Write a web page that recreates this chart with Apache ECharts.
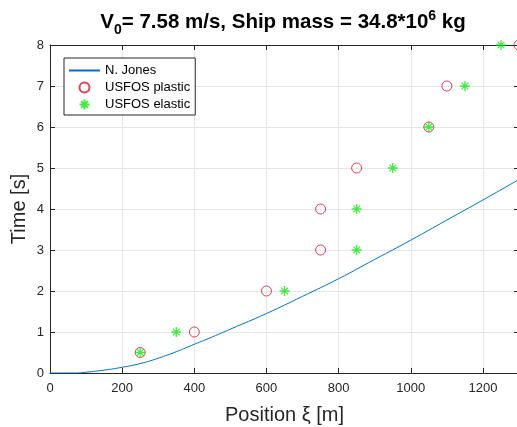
<!DOCTYPE html>
<html><head><meta charset="utf-8">
<script src="https://cdn.jsdelivr.net/npm/echarts@6/dist/echarts.min.js"></script>
<style>html,body{margin:0;padding:0;background:#fff}#c{width:517px;height:427px}</style>
</head><body><div id="c"></div>
<script>
// N. Jones analytical curve
const jonesX = [0, 70, 100, 150, 200, 250, 300, 350, 400, 450, 500, 600, 700, 800, 900, 1000, 1100, 1200, 1300];
const jonesT = [0, 0, 0.02, 0.07, 0.14, 0.23, 0.36, 0.52, 0.7, 0.88, 1.07, 1.45, 1.87, 2.3, 2.77, 3.24, 3.73, 4.22, 4.72];
// USFOS plastic (red circles)
const plasticX = [250, 400, 600, 750, 750, 850, 1050, 1100, 1300];
const plasticT = [0.5, 1, 2, 3, 4, 5, 6, 7, 8];
// USFOS elastic (green asterisks)
const elasticX = [250, 350, 650, 850, 850, 950, 1050, 1150, 1250];
const elasticT = [0.5, 1, 2, 3, 4, 5, 6, 7, 8];
// axes
const xMin = 0, xMax = 1300, xStep = 200;
const yMin = 0, yMax = 8, yStep = 1;

const zip = (a, b) => a.map((v, i) => [v, b[i]]);
const txt = '#262626';
const ff = 'Liberation Sans, Arial, sans-serif';
const star = 'path://M5,0L5,10M0,5L10,5M1.6,1.6L8.4,8.4M1.6,8.4L8.4,1.6';

const chart = echarts.init(document.getElementById('c'), null, {renderer: 'canvas'});
const axCommon = {
  axisLine: {show: true, onZero: false, lineStyle: {color: txt, width: 1}},
  axisTick: {show: true, inside: true, length: 5, lineStyle: {color: txt}},
  splitLine: {show: false}
};
chart.setOption({
  animation: false,
  backgroundColor: '#fff',
  grid: {left: 50, top: 45, width: 469, height: 328, containLabel: false, outerBoundsMode: 'none'},
  graphic: [{
    type: 'text', x: 283, y: 7,
    style: {
      text: '{a|V}{s|0}{a|= 7.58 m/s, Ship mass = 34.8*10}{p|6}{a| kg}',
      align: 'center', verticalAlign: 'top',
      rich: {
        a: {fontFamily: ff, fontWeight: 'bold', fontSize: 20.5, fill: '#000', lineHeight: 30, verticalAlign: 'middle'},
        s: {fontFamily: ff, fontWeight: 'bold', fontSize: 14, fill: '#000', lineHeight: 30, padding: [16, 0, 0, 0], verticalAlign: 'middle'},
        p: {fontFamily: ff, fontWeight: 'bold', fontSize: 14, fill: '#000', lineHeight: 30, padding: [0, 0, 12, 0], verticalAlign: 'middle'}
      }
    }
  }],
  legend: {
    orient: 'vertical', left: 64, top: 58,
    padding: [6, 5, 4, 4], itemGap: 4, itemWidth: 31, itemHeight: 10,
    backgroundColor: '#fff', borderColor: txt, borderWidth: 1, borderRadius: 0,
    textStyle: {fontFamily: ff, fontSize: 13, color: '#000', lineHeight: 13},
    data: ['N. Jones', 'USFOS plastic', 'USFOS elastic']
  },
  xAxis: [{
    type: 'value', min: xMin, max: xMax, interval: xStep, position: 'bottom',
    name: 'Position \u03be [m]', nameLocation: 'middle', nameGap: 32,
    nameTextStyle: {fontFamily: ff, fontSize: 20, color: txt},
    axisLabel: {color: txt, fontFamily: ff, fontSize: 13, margin: 9, showMaxLabel: false, formatter: v => String(v)},
    ...axCommon,
    splitLine: {show: true, lineStyle: {color: '#e6e6e6', width: 1}}
  }, {
    type: 'value', min: xMin, max: xMax, interval: xStep, position: 'top',
    axisLabel: {show: false}, ...axCommon
  }],
  yAxis: [{
    type: 'value', min: yMin, max: yMax, interval: yStep, position: 'left',
    name: 'Time [s]', nameLocation: 'middle', nameGap: 21, nameMoveOverlap: false,
    nameTextStyle: {fontFamily: ff, fontSize: 20, color: txt},
    axisLabel: {color: txt, fontFamily: ff, fontSize: 13, margin: 6, formatter: v => String(v)},
    ...axCommon,
    splitLine: {show: true, lineStyle: {color: '#e6e6e6', width: 1}}
  }, {
    type: 'value', min: yMin, max: yMax, interval: yStep, position: 'right',
    axisLabel: {show: false}, ...axCommon
  }],
  series: [{
    name: 'N. Jones', type: 'line', data: zip(jonesX, jonesT), smooth: true,
    symbol: 'circle', showSymbol: false, symbolSize: 0,
    lineStyle: {color: '#0072BD', width: 1},
    itemStyle: {color: 'rgba(0,0,0,0)', borderWidth: 0}
  }, {
    name: 'USFOS plastic', type: 'scatter', data: zip(plasticX, plasticT),
    symbol: 'circle', symbolSize: 10, clip: false,
    itemStyle: {color: 'rgba(255,255,255,0)', borderColor: '#cc1533', borderWidth: 1}
  }, {
    name: 'USFOS elastic', type: 'scatter', data: zip(elasticX, elasticT),
    symbol: star, symbolSize: 10, clip: false,
    itemStyle: {color: 'rgba(0,0,0,0)', borderColor: '#14e614', borderWidth: 1.3}
  }]
});
</script></body></html>
